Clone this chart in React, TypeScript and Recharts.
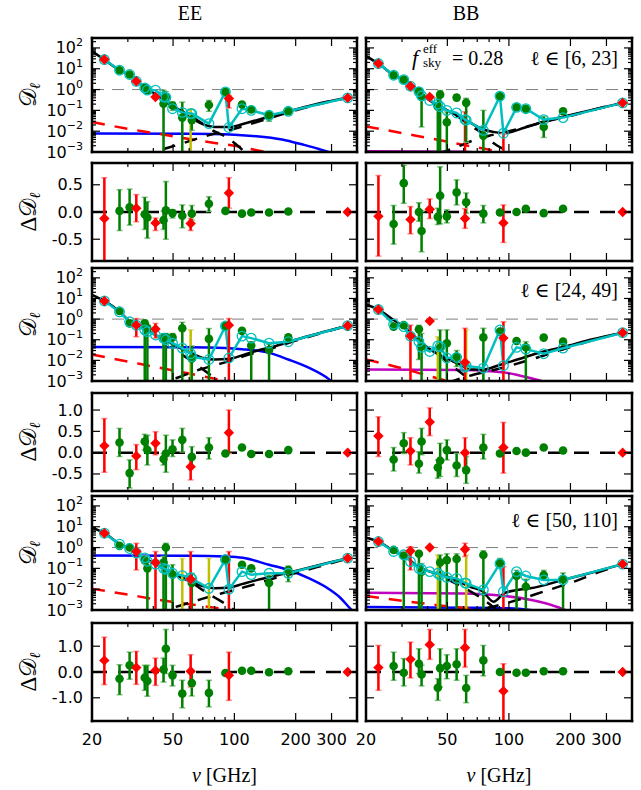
import React from 'react';
import { ComposedChart, Line, Scatter, XAxis, YAxis, ErrorBar, ReferenceLine } from 'recharts';

// ---- colours (classic matplotlib single-letter palette)
const GREEN = '#008000';
const GREEN_CAP = '#80c080';
const RED = '#ff0000';
const RED_CAP = '#ff8c8c';
const CYAN = '#00bfbf';
const BLUE = '#0000ff';
const MAGENTA = '#bf00bf';
const YELLOW = '#bfbf00';
const GREY = '#808080';

const TICK_FONT = "'DejaVu Sans', sans-serif";
const TICK_SIZE = 16;
const SERIF = "'Liberation Serif', 'DejaVu Serif', serif";

// ---- frequency axis (GHz, log)
const NU_DOMAIN: [number, number] = [20, 400];
const NU_TICKS = [20, 30, 40, 50, 60, 70, 80, 90, 100, 200, 300, 400];
const NU_LABELLED = [20, 50, 100, 200, 300];

// ---- spectrum axis (log) and residual axes (linear)
const D_DOMAIN: [number, number] = [1e-3, 300];
const D_DECADES = [-3, -2, -1, 0, 1, 2];
const D_TICKS = D_DECADES.flatMap((e) => [1, 2, 3, 4, 5, 6, 7, 8, 9].map((k) => k * Math.pow(10, e))).filter((v) => v <= 300.0001);

const RES_A_DOMAIN: [number, number] = [-0.9, 0.9];
const RES_A_TICKS = [-0.5, 0, 0.5];
const RES_B_DOMAIN: [number, number] = [-0.9, 1.4];
const RES_B_TICKS = [-0.5, 0, 0.5, 1.0];
const RES_C_DOMAIN: [number, number] = [-1.9, 1.9];
const RES_C_TICKS = [-1.0, 0, 1.0];

type Pt = [number, number, number, number]; // nu, value, lower end, upper end
type Span = [number, number, number]; // nu, lower end, upper end (no marker)
type Cv = [number, number]; // nu, value

// =====================  ell in [6, 23]  =====================
const EE_A_GREEN: Pt[] = [
  [27.3, 8.5, 7.5, 9.6], [30.6, 5.3, 4.7, 6.0], [36.3, 1.2, 1.05, 1.4], [37.4, 0.9, 0.75, 1.05],
  [44.9, 0.21, 0.001, 0.93], [46.1, 0.44, 0.25, 0.8], [49.7, 0.17, 0.1, 0.25], [55.5, 0.045, 0.001, 0.25],
  [61.8, 0.034, 0.011, 0.07], [75, 0.18, 0.09, 0.3], [90.4, 0.77, 0.6, 0.95], [109, 0.19, 0.16, 0.23],
  [121, 0.11, 0.09, 0.13], [148, 0.058, 0.03, 0.085], [184, 0.09, 0.07, 0.12],
];
const EE_A_RED: Pt[] = [[23, 27.6, 24, 31], [33, 2.5, 2.2, 2.85], [41, 0.44, 0.36, 0.55], [94, 0.37, 0.13, 0.5], [360, 0.4, 0.37, 0.43]];
const EE_A_YELLOW: Span[] = [[61, 0.001, 0.12]];
const EE_A_REDBAR: Span[] = [];
const EE_A_MODEL: Cv[] = [
  [23, 27.6], [27.3, 8.5], [30.6, 5.3], [33, 2.5], [36.3, 1.2], [37.4, 0.95], [41, 0.93], [44.9, 0.45], [46.1, 0.42],
  [49.7, 0.12], [55.5, 0.08], [61, 0.07], [61.8, 0.07], [75, 0.023], [90.4, 0.77], [94, 0.015], [109, 0.12],
  [121, 0.1], [148, 0.058], [184, 0.09], [360, 0.4],
];
const EE_A_TOTAL: Cv[] = [[20, 70], [23, 27], [27.3, 8.5], [30.6, 5], [36, 1.3], [41, 0.6], [50, 0.15], [60, 0.05], [70, 0.022], [80, 0.016], [95, 0.016], [110, 0.022], [130, 0.035], [160, 0.06], [200, 0.11], [280, 0.25], [360, 0.4]];
const EE_A_DUST: Cv[] = [[35, 0.0005], [41, 0.001], [55, 0.0025], [70, 0.0053], [100, 0.013], [140, 0.035], [200, 0.1], [280, 0.24], [360, 0.4]];
const EE_A_LOWFG: Cv[] = [[50, 0.15], [60, 0.06], [67, 0.03], [78, 0.011], [91, 0.0053], [106, 0.0017], [115, 0.0008]];
const EE_A_SYNC: Cv[] = [[20, 0.028], [30, 0.013], [40, 0.0082], [60, 0.0042], [80, 0.0027], [100, 0.002], [120, 0.0014], [150, 0.0009]];
const EE_A_CMB: Cv[] = [[20, 0.0078], [60, 0.0076], [100, 0.0068], [140, 0.0052], [180, 0.0036], [220, 0.0022], [260, 0.0014], [300, 0.0009], [340, 0.0005]];

const BB_A_GREEN: Pt[] = [
  [27.3, 4.9, 4.3, 5.5], [30.6, 3.0, 2.6, 3.4], [36.3, 0.83, 0.7, 1.0], [37.4, 0.45, 0.016, 0.8],
  [44.9, 0.15, 0.001, 0.4], [46.1, 0.57, 0.001, 0.9], [49.7, 0.027, 0.001, 0.085], [55.5, 0.41, 0.3, 0.55],
  [61.8, 0.23, 0.003, 0.38], [75, 0.006, 0.001, 0.1], [90.4, 0.48, 0.4, 0.58], [109, 0.14, 0.12, 0.17],
  [121, 0.12, 0.1, 0.14], [148, 0.016, 0.005, 0.05], [184, 0.091, 0.075, 0.11],
];
const BB_A_RED: Pt[] = [[23, 17.8, 15.5, 20.5], [33, 1.45, 1.25, 1.7], [41, 0.44, 0.36, 0.54], [360, 0.23, 0.21, 0.25]];
const BB_A_YELLOW: Span[] = [];
const BB_A_REDBAR: Span[] = [[61, 0.001, 0.085], [94, 0.001, 0.0077]];
const BB_A_MODEL: Cv[] = [
  [23, 17.8], [27.3, 4.9], [30.6, 3.0], [33, 1.45], [36.3, 0.8], [37.4, 0.5], [41, 0.3], [44.9, 0.2], [46.1, 0.15],
  [49.7, 0.1], [55.5, 0.075], [61, 0.036], [61.8, 0.034], [75, 0.011], [90.4, 0.48], [94, 0.008], [109, 0.14],
  [121, 0.12], [148, 0.036], [184, 0.045], [360, 0.23],
];
const BB_A_TOTAL: Cv[] = [[20, 40], [23, 17.8], [27.3, 4.9], [30.6, 3.0], [36, 0.8], [41, 0.3], [50, 0.1], [60, 0.04], [75, 0.012], [85, 0.009], [95, 0.008], [120, 0.015], [150, 0.03], [200, 0.06], [280, 0.13], [360, 0.23]];
const BB_A_DUST: Cv[] = [[45, 0.0008], [56, 0.0018], [67, 0.0036], [80, 0.006], [100, 0.01], [150, 0.028], [200, 0.055], [280, 0.13], [360, 0.23]];
const BB_A_LOWFG: Cv[] = [[55, 0.06], [64, 0.02], [74, 0.008], [85, 0.0025], [95, 0.0013], [105, 0.0007]];
const BB_A_SYNC: Cv[] = [[20, 0.017], [30, 0.0081], [43, 0.0042], [60, 0.0022], [80, 0.0013], [100, 0.0008]];
const BB_A_MAG: Cv[] = [[20, 0.00108], [60, 0.00104], [70, 0.00095], [90, 0.0007], [120, 0.0004]];

// =====================  ell in [24, 49]  =====================
const EE_B_GREEN: Pt[] = [
  [27.3, 2.5, 2.2, 2.9], [30.6, 0.62, 0.45, 0.85], [36.3, 0.62, 0.001, 0.9], [37.4, 0.36, 0.001, 0.55],
  [44.9, 0.13, 0.001, 0.18], [46.1, 0.13, 0.001, 0.2], [49.7, 0.13, 0.001, 0.2], [55.5, 0.36, 0.001, 0.7],
  [61.8, 0.012, 0.001, 0.05], [75, 0.11, 0.001, 0.35], [90.4, 0.46, 0.35, 0.62], [109, 0.27, 0.22, 0.33],
  [121, 0.052, 0.001, 0.08], [148, 0.032, 0.001, 0.06], [184, 0.13, 0.1, 0.17],
];
const EE_B_RED: Pt[] = [[23, 7.6, 6.6, 8.7], [33, 0.51, 0.14, 1.07], [41, 0.33, 0.12, 0.62], [94, 0.51, 0.001, 1.07], [360, 0.48, 0.44, 0.52]];
const EE_B_YELLOW: Span[] = [[61, 0.001, 0.3]];
const EE_B_REDBAR: Span[] = [];
const EE_B_MODEL: Cv[] = [
  [23, 7.6], [27.3, 2.25], [30.6, 0.74], [33, 0.51], [36.3, 0.3], [37.4, 0.25], [41, 0.17], [44.9, 0.12], [46.1, 0.1],
  [49.7, 0.068], [55.5, 0.039], [61, 0.021], [61.8, 0.015], [75, 0.011], [90.4, 0.46], [94, 0.013], [109, 0.15],
  [121, 0.12], [148, 0.068], [184, 0.08], [360, 0.48],
];
const EE_B_TOTAL: Cv[] = [[20, 15], [23, 7.6], [27.3, 2.3], [30.6, 0.8], [36, 0.33], [41, 0.17], [50, 0.06], [60, 0.025], [70, 0.013], [80, 0.011], [95, 0.012], [110, 0.018], [130, 0.03], [160, 0.05], [200, 0.1], [280, 0.25], [360, 0.48]];
const EE_B_DUST: Cv[] = [[40, 0.0007], [52, 0.0014], [67, 0.0035], [90, 0.008], [120, 0.02], [160, 0.045], [200, 0.09], [280, 0.24], [360, 0.48]];
const EE_B_LOWFG: Cv[] = [[55, 0.02], [60, 0.011], [67, 0.005], [76, 0.002], [85, 0.0009]];
const EE_B_SYNC: Cv[] = [[20, 0.019], [30, 0.0088], [40, 0.005], [60, 0.0023], [80, 0.0013], [100, 0.00085], [120, 0.0006]];
const EE_B_CMB: Cv[] = [[20, 0.044], [60, 0.043], [90, 0.04], [109, 0.035], [148, 0.023], [184, 0.011], [233, 0.0043], [292, 0.0012], [330, 0.0004]];

const BB_B_GREEN: Pt[] = [
  [27.3, 0.43, 0.32, 0.6], [30.6, 0.51, 0.4, 0.65], [36.3, 0.32, 0.011, 0.5], [37.4, 0.047, 0.001, 0.2],
  [46.1, 0.04, 0.001, 0.3], [49.7, 0.068, 0.001, 0.3], [55.5, 0.015, 0.005, 0.03], [75, 0.13, 0.001, 0.36],
  [90.4, 0.25, 0.2, 0.32], [109, 0.087, 0.07, 0.11], [121, 0.043, 0.001, 0.08], [148, 0.127, 0.1, 0.16],
  [184, 0.081, 0.065, 0.1],
];
const BB_B_RED: Pt[] = [[23, 2.9, 2.5, 3.3], [33, 0.15, 0.001, 0.51], [41, 0.8, 0.7, 0.92], [61, 0.008, 0.001, 0.36], [94, 0.12, 0.001, 0.74], [360, 0.22, 0.2, 0.24]];
const BB_B_YELLOW: Span[] = [[44.9, 0.001, 0.14], [61.8, 0.001, 0.3]];
const BB_B_REDBAR: Span[] = [];
const BB_B_MODEL: Cv[] = [
  [23, 2.9], [27.3, 0.57], [30.6, 0.43], [33, 0.15], [36.3, 0.081], [37.4, 0.043], [41, 0.027], [44.9, 0.05], [46.1, 0.047],
  [49.7, 0.013], [55.5, 0.014], [61, 0.0047], [61.8, 0.0055], [75, 0.0042], [90.4, 0.3], [94, 0.0055], [109, 0.043],
  [121, 0.035], [148, 0.021], [184, 0.039], [360, 0.22],
];
const BB_B_TOTAL: Cv[] = [[20, 5], [23, 2.9], [27.3, 0.9], [30.6, 0.43], [36, 0.1], [41, 0.035], [50, 0.012], [58, 0.006], [65, 0.0036], [75, 0.0036], [90, 0.006], [110, 0.011], [148, 0.027], [185, 0.045], [250, 0.1], [360, 0.22]];
const BB_B_DUST: Cv[] = [[50, 0.0008], [56, 0.0012], [67, 0.002], [90, 0.004], [120, 0.009], [160, 0.022], [200, 0.045], [280, 0.12], [360, 0.22]];
const BB_B_LOWFG: Cv[] = [[45, 0.02], [52, 0.006], [60, 0.002], [68, 0.0007]];
const BB_B_SYNC: Cv[] = [[20, 0.011], [31, 0.0038], [41, 0.0017], [50, 0.001], [60, 0.0006]];
const BB_B_MAG: Cv[] = [[20, 0.0036], [60, 0.0034], [80, 0.003], [100, 0.0024], [127, 0.0014], [150, 0.0009], [171, 0.0006]];

// =====================  ell in [50, 110]  =====================
const EE_C_GREEN: Pt[] = [
  [27.3, 1.2, 1.0, 1.4], [30.6, 1.0, 0.85, 1.2], [36.3, 0.25, 0.17, 0.4], [37.4, 0.1, 0.001, 0.21],
  [44.9, 0.19, 0.001, 0.37], [46.1, 1.0, 0.001, 1.6], [49.7, 0.05, 0.001, 0.15], [61.8, 0.02, 0.001, 0.058],
  [90.4, 0.25, 0.2, 0.32], [109, 0.15, 0.12, 0.18], [121, 0.1, 0.08, 0.12], [148, 0.02, 0.001, 0.046],
  [184, 0.084, 0.023, 0.13],
];
const EE_C_RED: Pt[] = [[23, 4.9, 4.3, 5.6], [33, 0.64, 0.084, 1.6], [41, 0.19, 0.001, 0.64], [61, 0.03, 0.001, 0.64], [360, 0.31, 0.28, 0.34]];
const EE_C_YELLOW: Span[] = [[55.5, 0.001, 0.3], [75, 0.001, 0.3]];
const EE_C_REDBAR: Span[] = [[94, 0.001, 0.64]];
const EE_C_MODEL: Cv[] = [
  [23, 4.9], [27.3, 1.45], [30.6, 0.9], [33, 0.55], [36.3, 0.32], [37.4, 0.22], [41, 0.16], [44.9, 0.1], [46.1, 0.09],
  [49.7, 0.058], [55.5, 0.045], [61, 0.036], [61.8, 0.032], [75, 0.011], [90.4, 0.27], [94, 0.01], [109, 0.07],
  [121, 0.05], [148, 0.058], [184, 0.058], [360, 0.31],
];
const EE_C_TOTAL: Cv[] = [[20, 9], [23, 4.9], [27.3, 1.5], [30.6, 0.9], [36, 0.33], [41, 0.16], [50, 0.055], [60, 0.025], [70, 0.014], [80, 0.011], [95, 0.012], [110, 0.018], [130, 0.028], [160, 0.045], [200, 0.075], [280, 0.17], [360, 0.31]];
const EE_C_DUST: Cv[] = [[40, 0.0008], [50, 0.0013], [60, 0.0022], [70, 0.0035], [90, 0.007], [120, 0.015], [160, 0.035], [200, 0.06], [280, 0.15], [360, 0.3]];
const EE_C_LOWFG: Cv[] = [[50, 0.06], [60, 0.025], [70, 0.009], [80, 0.004], [90, 0.002], [100, 0.001]];
const EE_C_SYNC: Cv[] = [[20, 0.0105], [30, 0.0055], [40, 0.0034], [60, 0.0019], [80, 0.0013], [100, 0.00095], [130, 0.0007], [160, 0.00055]];
const EE_C_CMB: Cv[] = [[20, 0.41], [60, 0.4], [90, 0.37], [110, 0.32], [148, 0.15], [184, 0.084], [233, 0.033], [292, 0.01], [330, 0.004], [370, 0.0012], [400, 0.0006]];

const BB_C_GREEN: Pt[] = [
  [27.3, 0.77, 0.65, 0.9], [30.6, 0.4, 0.001, 0.6], [36.3, 0.5, 0.001, 0.65], [37.4, 0.07, 0.001, 0.17],
  [46.1, 0.19, 0.001, 0.44], [49.7, 0.25, 0.001, 0.5], [55.5, 0.28, 0.001, 0.5], [75, 0.44, 0.001, 0.7],
  [90.4, 0.18, 0.12, 0.3], [109, 0.043, 0.001, 0.08], [121, 0.013, 0.001, 0.03], [148, 0.048, 0.03, 0.08],
  [184, 0.03, 0.001, 0.06],
];
const BB_C_RED: Pt[] = [[23, 1.95, 1.7, 2.2], [33, 0.69, 0.084, 1.1], [41, 1.0, 0.9, 1.1], [61, 0.83, 0.37, 1.6], [360, 0.16, 0.15, 0.18]];
const BB_C_YELLOW: Span[] = [[44.9, 0.001, 0.44], [61.8, 0.001, 0.44]];
const BB_C_REDBAR: Span[] = [[94, 0.001, 0.12]];
const BB_C_MODEL: Cv[] = [
  [23, 1.95], [27.3, 0.65], [30.6, 0.45], [33, 0.21], [36.3, 0.1], [37.4, 0.09], [41, 0.07], [44.9, 0.058], [46.1, 0.047],
  [49.7, 0.037], [55.5, 0.033], [61, 0.02], [61.8, 0.019], [75, 0.0093], [90.4, 0.17], [94, 0.0076], [109, 0.07],
  [121, 0.043], [148, 0.028], [184, 0.028], [360, 0.16],
];
const BB_C_TOTAL: Cv[] = [[20, 3], [23, 1.95], [27.3, 0.7], [30.6, 0.42], [36, 0.12], [41, 0.07], [50, 0.04], [60, 0.018], [64.6, 0.013], [75, 0.0076], [78, 0.0047], [84, 0.0025], [94.6, 0.0063], [110, 0.0092], [127, 0.011], [185, 0.028], [250, 0.06], [360, 0.16]];
const BB_C_DUST: Cv[] = [[60, 0.0007], [80, 0.0013], [110, 0.003], [150, 0.008], [200, 0.02], [280, 0.07], [360, 0.16]];
const BB_C_LOWFG: Cv[] = [[50, 0.03], [60, 0.012], [70, 0.005], [80, 0.002], [90, 0.0008]];
const BB_C_SYNC: Cv[] = [[20, 0.0047], [30, 0.0028], [45, 0.0017], [62, 0.0012], [80, 0.0008]];
const BB_C_MAG: Cv[] = [[20, 0.0068], [60, 0.0062], [90, 0.005], [127, 0.0031], [160, 0.0018], [207, 0.0007]];
const BB_C_CMB: Cv[] = [[20, 0.0014], [60, 0.0013], [100, 0.0012], [127, 0.001], [150, 0.0008]];

// =====================  residuals  =====================
const EE_A_RES_GREEN: Pt[] = [
  [27.3, 0.02, -0.34, 0.41], [30.6, 0.085, -0.24, 0.42], [36.3, -0.04, -0.32, 0.27], [37.4, -0.1, -0.48, 0.19],
  [44.9, -0.15, -0.32, 0.01], [46.1, 0.03, -0.5, 0.56], [49.7, -0.02, -0.11, 0.04], [55.5, -0.07, -0.29, 0.13],
  [61.8, -0.03, -0.15, 0.12], [75, 0.15, 0.01, 0.28], [90.4, 0.02, -0.01, 0.05], [109, -0.03, -0.04, -0.02],
  [121, -0.01, -0.02, 0.0], [148, -0.01, -0.02, 0.0], [184, 0.01, 0.0, 0.02],
];
const EE_A_RES_RED: Pt[] = [[23, -0.12, -0.9, 0.63], [33, 0.07, -0.18, 0.32], [41, -0.2, -0.34, -0.11], [61, -0.21, -0.34, -0.12], [94, 0.35, 0.07, 0.63], [360, 0.0, -0.01, 0.01]];

const BB_A_RES_GREEN: Pt[] = [
  [27.3, -0.22, -0.59, 0.12], [30.6, 0.53, 0.16, 0.86], [36.3, 0.0, -0.17, 0.17], [37.4, -0.35, -0.73, 0.01],
  [44.9, -0.09, -0.23, 0.07], [46.1, 0.3, -0.22, 0.83], [49.7, -0.08, -0.2, 0.04], [55.5, 0.36, 0.13, 0.59],
  [61.8, 0.18, -0.02, 0.35], [75, -0.03, -0.2, 0.12], [90.4, -0.01, -0.02, 0.0], [109, 0.0, -0.01, 0.01],
  [121, 0.06, 0.05, 0.07], [148, -0.02, -0.03, -0.01], [184, 0.06, 0.05, 0.07],
];
const BB_A_RES_RED: Pt[] = [[23, -0.08, -0.81, 0.67], [33, -0.14, -0.4, 0.1], [41, 0.05, -0.12, 0.24], [61, -0.12, -0.3, 0.06], [94, -0.2, -0.56, 0.13], [360, 0.0, -0.01, 0.01]];

const EE_B_RES_GREEN: Pt[] = [
  [27.3, 0.24, -0.09, 0.57], [30.6, -0.48, -0.83, -0.17], [36.3, 0.26, 0.06, 0.43], [37.4, 0.06, -0.29, 0.41],
  [44.9, -0.15, -0.29, -0.02], [46.1, -0.02, -0.46, 0.41], [49.7, 0.08, -0.09, 0.3], [55.5, 0.3, 0.02, 0.57],
  [61.8, -0.1, -0.33, 0.14], [75, 0.12, -0.15, 0.35], [90.4, -0.02, -0.03, 0.0], [109, 0.12, 0.11, 0.13],
  [121, -0.03, -0.04, -0.02], [148, -0.03, -0.04, -0.02], [184, 0.06, 0.05, 0.07],
];
const EE_B_RES_RED: Pt[] = [[23, 0.16, -0.46, 0.8], [33, -0.08, -0.4, 0.19], [41, 0.22, -0.05, 0.49], [61, -0.33, -0.64, -0.07], [94, 0.47, -0.02, 1.0], [360, 0.0, -0.01, 0.01]];

const BB_B_RES_GREEN: Pt[] = [
  [27.3, -0.16, -0.43, 0.12], [30.6, 0.22, -0.02, 0.47], [36.3, -0.26, -0.48, 0.02], [37.4, 0.26, -0.05, 0.57],
  [44.9, -0.35, -0.6, -0.17], [46.1, -0.19, -0.56, 0.22], [49.7, 0.06, -0.17, 0.3], [55.5, -0.3, -0.56, -0.02],
  [61.8, -0.41, -0.72, -0.09], [75, 0.12, -0.15, 0.43], [90.4, -0.02, -0.03, 0.0], [109, 0.04, 0.03, 0.05],
  [121, 0.0, -0.01, 0.01], [148, 0.12, 0.11, 0.13], [184, 0.05, 0.04, 0.06],
];
const BB_B_RES_RED: Pt[] = [[23, 0.39, -0.09, 0.84], [33, 0.04, -0.29, 0.35], [41, 0.72, 0.4, 1.05], [61, 0.0, -0.35, 0.35], [94, 0.12, -0.48, 0.71], [360, 0.0, -0.01, 0.01]];

const EE_C_RES_GREEN: Pt[] = [
  [27.3, -0.26, -0.88, 0.28], [30.6, 0.26, -0.28, 0.77], [36.3, -0.22, -0.71, 0.26], [37.4, -0.35, -0.94, 0.26],
  [44.9, 0.1, -0.39, 0.54], [46.1, 0.9, -0.06, 1.65], [49.7, -0.13, -0.54, 0.26], [55.5, -0.84, -1.39, -0.32],
  [61.8, -0.43, -0.93, 0.0], [75, -0.81, -1.35, -0.32], [90.4, -0.04, -0.06, -0.02], [109, 0.05, 0.04, 0.06],
  [121, 0.05, 0.04, 0.06], [148, -0.01, -0.02, 0.0], [184, 0.03, 0.02, 0.04],
];
const EE_C_RES_RED: Pt[] = [[23, 0.45, -0.49, 1.35], [33, 0.17, -0.48, 0.8], [41, 0.06, -0.52, 0.54], [61, 0.03, -0.58, 0.67], [94, -0.13, -1.1, 0.77], [360, 0.0, -0.01, 0.01]];

const BB_C_RES_GREEN: Pt[] = [
  [27.3, 0.23, -0.32, 0.77], [30.6, -0.03, -0.54, 0.52], [36.3, 0.32, -0.06, 0.9], [37.4, -0.1, -0.54, 0.26],
  [44.9, -0.61, -1.1, -0.26], [46.1, 0.15, -0.58, 0.9], [49.7, 0.23, -0.26, 0.67], [55.5, 0.3, -0.32, 0.9],
  [61.8, -0.62, -1.19, -0.13], [75, 0.45, -0.15, 1.03], [90.4, 0.0, -0.02, 0.02], [109, -0.03, -0.04, -0.02],
  [121, -0.03, -0.04, -0.02], [148, 0.03, 0.02, 0.04], [184, 0.03, 0.02, 0.04],
];
const BB_C_RES_RED: Pt[] = [[23, 0.17, -0.71, 1.03], [33, 0.49, -0.23, 1.16], [41, 1.06, 0.49, 1.65], [61, 0.94, 0.19, 1.65], [94, -0.74, -1.9, 0.32], [360, 0.0, -0.01, 0.01]];

// ---- helpers turning the tuples into rows for the library
const pts = (a: Pt[]) => a.map(([nu, v, lo, hi]) => ({ nu, v, err: [v - lo, hi - v] }));
const spans = (a: Span[]) => a.map(([nu, lo, hi]) => ({ nu, v: hi, err: [hi - lo, 0] }));
const curve = (a: Cv[]) => a.map(([nu, v]) => ({ nu, v }));

// ---- layout of the 2 x 6 grid of plot areas
const COLS = [{ x: 92, w: 265 }, { x: 366, w: 266 }];
const MAIN_ROWS = [{ y: 38, h: 114 }, { y: 268, h: 113 }, { y: 496, h: 114 }];
const RES_ROWS = [{ y: 163, h: 98 }, { y: 393, h: 98 }, { y: 623, h: 98 }];
const ML = 70;
const MR = 12;
const MT = 12;

const FRAME = { stroke: '#000', strokeWidth: 2.5, strokeLinecap: 'square' as const };

const isDecade = (v: number) => Math.abs(Math.log10(v) - Math.round(Math.log10(v))) < 1e-6;

const nuTick = (side: 'bottom' | 'top', labels: boolean) => (p: any) => {
  const v = p.payload.value as number;
  const major = NU_LABELLED.includes(v);
  const len = major ? 8 : 4;
  const d = side === 'bottom' ? -len : len;
  return (
    <g>
      <line x1={p.x} x2={p.x} y1={p.y} y2={p.y + d} stroke="#000" strokeWidth={1.2} />
      {labels && major && (
        <text x={p.x} y={p.y + 24} textAnchor="middle" fontSize={TICK_SIZE} fontFamily={TICK_FONT} fill="#000">
          {v}
        </text>
      )}
    </g>
  );
};

const logTick = (side: 'left' | 'right', labels: boolean) => (p: any) => {
  const v = p.payload.value as number;
  const major = isDecade(v);
  const len = major ? 8 : 4;
  const d = side === 'left' ? len : -len;
  const e = Math.round(Math.log10(v));
  return (
    <g>
      <line x1={p.x} x2={p.x + d} y1={p.y} y2={p.y} stroke="#000" strokeWidth={1.2} />
      {labels && major && (
        <text x={p.x - 9} y={p.y + 5.5} textAnchor="end" fontSize={TICK_SIZE} fontFamily={TICK_FONT} fill="#000">
          <tspan>10</tspan>
          <tspan dy={-7.5} fontSize={11}>{e < 0 ? `\u2212${-e}` : `${e}`}</tspan>
        </text>
      )}
    </g>
  );
};

const linTick = (side: 'left' | 'right', labels: boolean) => (p: any) => {
  const v = p.payload.value as number;
  const d = side === 'left' ? 8 : -8;
  return (
    <g>
      <line x1={p.x} x2={p.x + d} y1={p.y} y2={p.y} stroke="#000" strokeWidth={1.2} />
      {labels && (
        <text x={p.x - 9} y={p.y + 5.5} textAnchor="end" fontSize={TICK_SIZE} fontFamily={TICK_FONT} fill="#000">
          {v.toFixed(1)}
        </text>
      )}
    </g>
  );
};

function axes(log: boolean, yDomain: [number, number], yTicks: number[], yLabels: boolean, xLabels: boolean) {
  const common = { type: 'number' as const, allowDataOverflow: true, mirror: true, interval: 0 as const, tickSize: 0, tickMargin: 0, tickLine: false, axisLine: FRAME };
  return [
    <XAxis key="xb" xAxisId="b" dataKey="nu" scale="log" domain={NU_DOMAIN} orientation="bottom" ticks={NU_TICKS} tick={nuTick('bottom', xLabels)} {...common} />,
    <XAxis key="xt" xAxisId="t" dataKey="nu" scale="log" domain={NU_DOMAIN} orientation="top" ticks={NU_TICKS} tick={nuTick('top', false)} {...common} />,
    <YAxis key="yl" yAxisId="l" dataKey="v" scale={log ? 'log' : 'linear'} domain={yDomain} orientation="left" ticks={yTicks} tick={log ? logTick('left', yLabels) : linTick('left', yLabels)} {...common} />,
    <YAxis key="yr" yAxisId="r" dataKey="v" scale={log ? 'log' : 'linear'} domain={yDomain} orientation="right" ticks={yTicks} tick={log ? logTick('right', false) : linTick('right', false)} {...common} />,
  ];
}

const GreenDot = (p: any) => <circle cx={p.cx} cy={p.cy} r={4.3} fill={GREEN} />;
const RedDiamond = (p: any) => {
  const s = 5.2;
  return <polygon points={`${p.cx},${p.cy - s} ${p.cx + s},${p.cy} ${p.cx},${p.cy + s} ${p.cx - s},${p.cy}`} fill={RED} />;
};
const NoMark = () => <g />;

const ser = { xAxisId: 'b', yAxisId: 'l', isAnimationActive: false } as const;

function errorScatter(key: string, rows: any[], shape: any, color: string, cap: string) {
  return (
    <Scatter key={key} {...ser} data={rows} shape={shape}>
      <ErrorBar dataKey="err" direction="y" width={3} stroke={cap} strokeWidth={1.5} />
      <ErrorBar dataKey="err" direction="y" width={0} stroke={color} strokeWidth={2.5} />
    </Scatter>
  );
}

type MainSpec = {
  green: Pt[]; red: Pt[]; yellow: Span[]; redBars: Span[]; model: Cv[];
  total: Cv[]; dust: Cv[]; lowfg: Cv[]; sync: Cv[]; cmb?: Cv[]; mag?: Cv[];
};

function MainPanel({ col, row, spec }: { col: number; row: number; spec: MainSpec }) {
  const { x, w } = COLS[col];
  const { y, h } = MAIN_ROWS[row];
  const lineCommon = { ...ser, dataKey: 'v', dot: false, activeDot: false, type: 'monotone' as const };
  return (
    <div style={{ position: 'absolute', left: x - ML, top: y - MT }}>
      <ComposedChart width={w + ML + MR} height={h + 2 * MT} margin={{ left: ML, right: MR, top: MT, bottom: MT }}>
        <ReferenceLine {...ser} y={1} stroke={GREY} strokeWidth={1} strokeDasharray="12 8" />
        {spec.mag && <Line {...lineCommon} data={curve(spec.mag)} stroke={MAGENTA} strokeWidth={2.5} />}
        {spec.cmb && <Line {...lineCommon} data={curve(spec.cmb)} stroke={BLUE} strokeWidth={2.5} />}
        <Line {...lineCommon} data={curve(spec.sync)} stroke={RED} strokeWidth={2.5} strokeDasharray="13 10" />
        <Line {...lineCommon} data={curve(spec.dust)} stroke="#000" strokeWidth={2.5} strokeDasharray="13 10" />
        <Line {...lineCommon} data={curve(spec.lowfg)} stroke="#000" strokeWidth={2.5} strokeDasharray="13 10" />
        <Line {...lineCommon} data={curve(spec.total)} stroke="#000" strokeWidth={2.5} />
        {errorScatter('yb', spans(spec.yellow), NoMark, YELLOW, '#dfdf80')}
        {errorScatter('rb', spans(spec.redBars), NoMark, RED, RED_CAP)}
        {errorScatter('g', pts(spec.green), GreenDot, GREEN, GREEN_CAP)}
        <Line {...ser} dataKey="v" type="linear" data={curve(spec.model)} stroke={CYAN} strokeWidth={2.5}
          dot={{ r: 4.8, fill: 'none', stroke: CYAN, strokeWidth: 1.3 }} activeDot={false} />
        {errorScatter('r', pts(spec.red), RedDiamond, RED, RED_CAP)}
        {axes(true, D_DOMAIN, D_TICKS, col === 0, false)}
      </ComposedChart>
    </div>
  );
}

function ResPanel({ col, row, green, red, domain, ticks }: { col: number; row: number; green: Pt[]; red: Pt[]; domain: [number, number]; ticks: number[] }) {
  const { x, w } = COLS[col];
  const { y, h } = RES_ROWS[row];
  const bottom = row === 2;
  const mb = bottom ? 40 : MT;
  return (
    <div style={{ position: 'absolute', left: x - ML, top: y - MT }}>
      <ComposedChart width={w + ML + MR} height={h + MT + mb} margin={{ left: ML, right: MR, top: MT, bottom: mb }}>
        <ReferenceLine {...ser} y={0} stroke="#000" strokeWidth={2.5} strokeDasharray="15 11" />
        {errorScatter('g', pts(green), GreenDot, GREEN, GREEN_CAP)}
        {errorScatter('r', pts(red), RedDiamond, RED, RED_CAP)}
        {axes(false, domain, ticks, col === 0, bottom)}
      </ComposedChart>
    </div>
  );
}

const MAIN_SPECS: { col: number; row: number; spec: MainSpec }[] = [
  { col: 0, row: 0, spec: { green: EE_A_GREEN, red: EE_A_RED, yellow: EE_A_YELLOW, redBars: EE_A_REDBAR, model: EE_A_MODEL, total: EE_A_TOTAL, dust: EE_A_DUST, lowfg: EE_A_LOWFG, sync: EE_A_SYNC, cmb: EE_A_CMB } },
  { col: 1, row: 0, spec: { green: BB_A_GREEN, red: BB_A_RED, yellow: BB_A_YELLOW, redBars: BB_A_REDBAR, model: BB_A_MODEL, total: BB_A_TOTAL, dust: BB_A_DUST, lowfg: BB_A_LOWFG, sync: BB_A_SYNC, mag: BB_A_MAG } },
  { col: 0, row: 1, spec: { green: EE_B_GREEN, red: EE_B_RED, yellow: EE_B_YELLOW, redBars: EE_B_REDBAR, model: EE_B_MODEL, total: EE_B_TOTAL, dust: EE_B_DUST, lowfg: EE_B_LOWFG, sync: EE_B_SYNC, cmb: EE_B_CMB } },
  { col: 1, row: 1, spec: { green: BB_B_GREEN, red: BB_B_RED, yellow: BB_B_YELLOW, redBars: BB_B_REDBAR, model: BB_B_MODEL, total: BB_B_TOTAL, dust: BB_B_DUST, lowfg: BB_B_LOWFG, sync: BB_B_SYNC, mag: BB_B_MAG } },
  { col: 0, row: 2, spec: { green: EE_C_GREEN, red: EE_C_RED, yellow: EE_C_YELLOW, redBars: EE_C_REDBAR, model: EE_C_MODEL, total: EE_C_TOTAL, dust: EE_C_DUST, lowfg: EE_C_LOWFG, sync: EE_C_SYNC, cmb: EE_C_CMB } },
  { col: 1, row: 2, spec: { green: BB_C_GREEN, red: BB_C_RED, yellow: BB_C_YELLOW, redBars: BB_C_REDBAR, model: BB_C_MODEL, total: BB_C_TOTAL, dust: BB_C_DUST, lowfg: BB_C_LOWFG, sync: BB_C_SYNC, mag: BB_C_MAG, cmb: BB_C_CMB } },
];

const RES_SPECS = [
  { col: 0, row: 0, green: EE_A_RES_GREEN, red: EE_A_RES_RED, domain: RES_A_DOMAIN, ticks: RES_A_TICKS },
  { col: 1, row: 0, green: BB_A_RES_GREEN, red: BB_A_RES_RED, domain: RES_A_DOMAIN, ticks: RES_A_TICKS },
  { col: 0, row: 1, green: EE_B_RES_GREEN, red: EE_B_RES_RED, domain: RES_B_DOMAIN, ticks: RES_B_TICKS },
  { col: 1, row: 1, green: BB_B_RES_GREEN, red: BB_B_RES_RED, domain: RES_B_DOMAIN, ticks: RES_B_TICKS },
  { col: 0, row: 2, green: EE_C_RES_GREEN, red: EE_C_RES_RED, domain: RES_C_DOMAIN, ticks: RES_C_TICKS },
  { col: 1, row: 2, green: BB_C_RES_GREEN, red: BB_C_RES_RED, domain: RES_C_DOMAIN, ticks: RES_C_TICKS },
];

// ---- titles, axis names and multipole-bin annotations
const COLUMN_TITLES = [{ text: 'EE', x: 190 }, { text: 'BB', x: 466 }];
const BIN_LABELS = [
  { lo: '6', hi: '23', y: 65 },
  { lo: '24', hi: '49', y: 297 },
  { lo: '50', hi: '110', y: 527 },
];

function DLabel({ cy, delta }: { cy: number; delta: boolean }) {
  return (
    <text transform={`rotate(-90 36 ${cy})`} x={36} y={cy} textAnchor="middle" fontFamily={SERIF} fontSize={23} fill="#000">
      {delta && <tspan>{'\u0394'}</tspan>}
      <tspan>{'\u{1D49F}'}</tspan>
      <tspan fontSize={15} dy={4} fontStyle="italic">{'\u2113'}</tspan>
    </text>
  );
}

function Overlay() {
  return (
    <svg width={641} height={790} style={{ position: 'absolute', left: 0, top: 0 }}>
      {COLUMN_TITLES.map((t) => (
        <text key={t.text} x={t.x} y={20} textAnchor="middle" fontFamily={SERIF} fontSize={20} fill="#000">{t.text}</text>
      ))}
      {COLS.map((c, i) => (
        <text key={`nu${i}`} x={c.x + c.w / 2} y={782} textAnchor="middle" fontFamily={SERIF} fontSize={20} fill="#000">
          <tspan fontStyle="italic">{'\u03BD'}</tspan>
          <tspan>{' [GHz]'}</tspan>
        </text>
      ))}
      {MAIN_ROWS.map((r, i) => <DLabel key={`d${i}`} cy={r.y + r.h / 2} delta={false} />)}
      {RES_ROWS.map((r, i) => <DLabel key={`dd${i}`} cy={r.y + r.h / 2} delta />)}
      {BIN_LABELS.map((b, i) => (
        <text key={`b${i}`} x={618} y={b.y} textAnchor="end" fontFamily={SERIF} fontSize={20} fill="#000" style={{ whiteSpace: 'pre' }}>
          {`\u2113 \u2208 [${b.lo}, ${b.hi}]`}
        </text>
      ))}
      <text x={412} y={65} fontFamily={SERIF} fontSize={22} fontStyle="italic" fill="#000">f</text>
      <text x={423} y={53} fontFamily={SERIF} fontSize={13} fill="#000">eff</text>
      <text x={423} y={67} fontFamily={SERIF} fontSize={13} fill="#000">sky</text>
      <text x={452} y={65} fontFamily={SERIF} fontSize={20} fill="#000">= 0.28</text>
    </svg>
  );
}

export default function App() {
  return (
    <div style={{ position: 'absolute', left: 0, top: 0, width: 641, height: 790, background: '#fff', overflow: 'hidden' }}>
      <Overlay />
      {MAIN_SPECS.map((m) => <MainPanel key={`m${m.col}${m.row}`} col={m.col} row={m.row} spec={m.spec} />)}
      {RES_SPECS.map((r) => (
        <ResPanel key={`r${r.col}${r.row}`} col={r.col} row={r.row} green={r.green} red={r.red} domain={r.domain} ticks={r.ticks} />
      ))}
    </div>
  );
}
